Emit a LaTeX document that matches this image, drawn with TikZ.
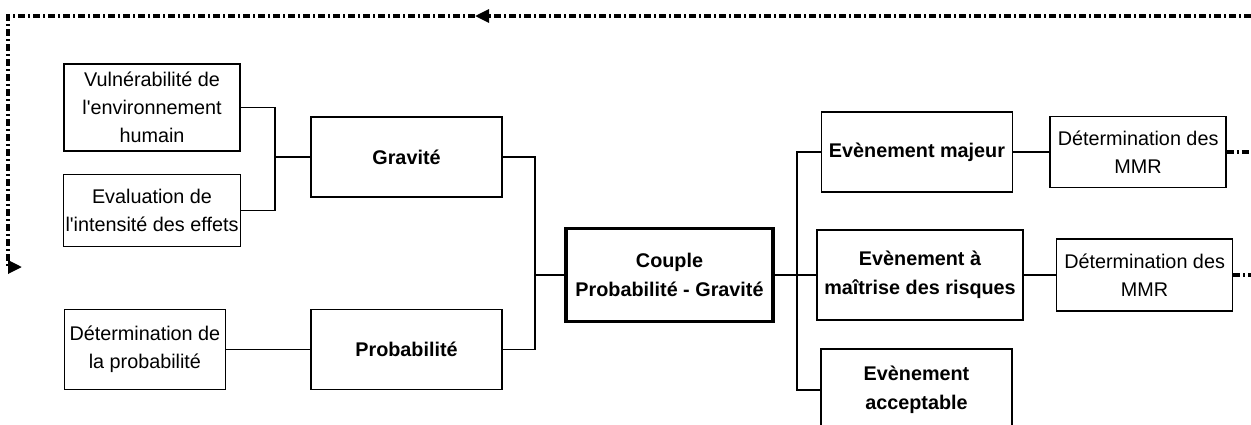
\documentclass[tikz,border=0pt]{standalone}
\usepackage{fontspec}
\setmainfont{Liberation Sans}[Ligatures=TeXOff]
\usepackage{tikz}
\usetikzlibrary{arrows.meta,positioning}

\begin{document}
\begin{tikzpicture}[x=0.5pt,y=-0.5pt,>={Triangle[length=7pt,width=6.5pt]},
  every node/.style={align=center,font=\fontsize{9.9}{14}\selectfont,inner sep=1pt},
  box/.style={draw,line width=0.8pt,minimum width=88pt,minimum height=36pt},
  boldbox/.style={draw,line width=0.8pt,minimum width=95.5pt,minimum height=40pt,font=\fontsize{9.9}{14.5}\bfseries},
  link/.style={line width=0.8pt},
  feedback/.style={line width=1.6pt,dash pattern=on 3.5pt off 1.5pt on 1pt off 1.5pt}]
  \useasboundingbox (0,0) rectangle (1251,424);
  \node[box,minimum height=43.5pt] (vuln) at (152,107.5) {Vulnérabilité de\\l'environnement\\humain};
  \node[box,below=11pt of vuln] (eval) {Evaluation de\\l'intensité des effets};
  \node[boldbox] (gravite) at (406.5,157) {Gravité};
  \node[boldbox,below=55.5pt of gravite] (proba) {Probabilité};
  \node[box,minimum width=80.5pt,minimum height=40pt,left=42pt of proba] (detprob) {Détermination de\\la probabilité};
  \node[boldbox,line width=1.6pt,minimum width=103.5pt,minimum height=46.5pt] (couple) at (669.5,275) {Couple\\Probabilité - Gravité};
  \node[boldbox,minimum width=103pt,minimum height=45pt] (maitrise) at (920,275) {Evènement à\\maîtrise des risques};
  \node[boldbox] (majeur) at (917,152) {Evènement majeur};
  \node[boldbox,minimum height=41pt] (accept) at (916.5,390) {Evènement\\acceptable};
  \node[box,minimum height=35.5pt,right=18pt of majeur] (mmrA) {Détermination des\\MMR};
  \node[box,right=16pt of maitrise] (mmrB) {Détermination des\\MMR};
  \coordinate (jgrav) at (275,157);
  \coordinate (jcouple) at (535,275);
  \coordinate (jevt) at (797,275);
  \coordinate (rightedge) at (1251,16);
  \coordinate (turn) at (475,16);
  \coordinate (corner) at (8,16);
  \coordinate (back) at (22,267);
  \draw[link] (vuln.east) -| (jgrav) |- (eval.east);
  \draw[link] (jgrav) -- (gravite.west);
  \draw[link] (detprob) -- (proba);
  \draw[link] (gravite.east) -| (jcouple) |- (proba.east);
  \draw[link] (jcouple) -- (couple.west);
  \draw[link] (majeur.west) -| (jevt) |- (accept.west);
  \draw[link] (couple.east) -- (maitrise.west);
  \draw[link] (majeur) -- (mmrA);
  \draw[link] (maitrise) -- (mmrB);
  \draw[feedback] (mmrA.east) -- (mmrA.east -| rightedge);
  \draw[feedback] (mmrB.east) -- (mmrB.east -| rightedge);
  \draw[feedback,->] (rightedge) -- (turn);
  \draw[feedback,->] (turn) -- (corner) |- (back);
\end{tikzpicture}
\end{document}
